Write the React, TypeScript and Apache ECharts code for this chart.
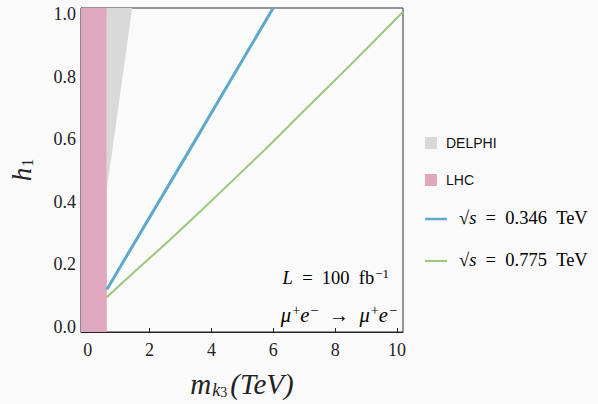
import React, { useEffect, useRef } from "react";
import * as echarts from "echarts";

const xTicks = [0, 2, 4, 6, 8, 10];
const yTicks = [0, 0.2, 0.4, 0.6, 0.8, 1.0];
const xRange = [-0.215, 10.19];
const yRange = [-0.016, 1.019];
const lhcEdge = 0.62;
const delphiM = [0.62, 1.44, 0.62];
const delphiH = [0.44, 1.019, 1.019];
const blueM = [0.62, 3.29, 6.0];
const blueH = [0.12, 0.565, 1.02];
const greenM = [0.62, 1.52, 2.6, 3.67, 5.71, 6.89, 8.5, 10.19];
const greenH = [0.095, 0.177, 0.273, 0.372, 0.565, 0.681, 0.838, 1.007];

const SERIF = "'Liberation Serif', 'DejaVu Serif', serif";
const SANS = "'Liberation Sans', Arial, sans-serif";
const PINK = "#dfa8bf";
const GRAY = "#d9d9d9";
const BLUE = "#5ea8cc";
const GREEN = "#9bc77c";
const BG = "#fafafa";
const EN = "\u2002";

export default function App() {
  const ref = useRef<HTMLDivElement>(null);
  useEffect(() => {
    const chart = echarts.init(ref.current!, null, { renderer: "svg" });
    const mkRich = (fs: number) => ({
      n: { fontFamily: SERIF, fontSize: fs, color: "#222" },
      i: { fontFamily: SERIF, fontSize: fs, fontStyle: "italic", color: "#222" },
      sup: { fontFamily: SERIF, fontSize: fs * 0.7, color: "#222", verticalAlign: "top", padding: [0, 0, fs * 0.5, 1] },
    });
    const mathRich = mkRich(18.5);
    chart.setOption({
      animation: false,
      backgroundColor: BG,
      grid: {
        left: 79,
        top: 8,
        right: 195,
        bottom: 72,
        show: true,
        borderColor: "#333",
        borderWidth: 1,
        backgroundColor: BG,
      },
      xAxis: {
        type: "value",
        min: xRange[0],
        max: xRange[1],
        splitLine: { show: false },
        axisLine: { show: true, onZero: false, lineStyle: { color: "#222", width: 1.2 } },
        axisTick: { show: true, inside: true, length: 4, customValues: xTicks, lineStyle: { color: "#222" } },
        axisLabel: {
          customValues: xTicks,
          fontFamily: SERIF,
          fontSize: 18,
          color: "#222",
          margin: 9,
          formatter: (v: number) => String(Math.round(v)),
        },
        name: "{m|m}{s|k}{s3|3}{m|(TeV)}",
        nameLocation: "middle",
        nameGap: 37,
        nameTextStyle: {
          rich: {
            m: { fontFamily: SERIF, fontSize: 29, fontStyle: "italic", color: "#222", padding: [0, 1, 0, 1] },
            s: { fontFamily: SERIF, fontSize: 18, fontStyle: "italic", color: "#222", verticalAlign: "bottom", padding: [12, 0, 0, 0] },
            s3: { fontFamily: SERIF, fontSize: 14, color: "#222", verticalAlign: "bottom", padding: [12, 2, 0, 0] },
          },
        },
      },
      yAxis: {
        type: "value",
        min: yRange[0],
        max: yRange[1],
        splitLine: { show: false },
        axisLine: { show: true, onZero: false, lineStyle: { color: "#222", width: 1.2 } },
        axisTick: { show: true, inside: true, length: 4, customValues: yTicks, lineStyle: { color: "#222" } },
        axisLabel: {
          customValues: yTicks,
          fontFamily: SERIF,
          fontSize: 18,
          color: "#222",
          margin: 5,
          formatter: (v: number) => v.toFixed(1),
        },
        name: "{h|h}{s|1}",
        nameLocation: "middle",
        nameRotate: 90,
        nameGap: 46,
        nameTextStyle: {
          rich: {
            h: { fontFamily: SERIF, fontSize: 27, fontStyle: "italic", color: "#222" },
            s: { fontFamily: SERIF, fontSize: 16, color: "#222", verticalAlign: "bottom", padding: [10, 0, 0, 1] },
          },
        },
      },
      series: [
        {
          name: "DELPHI",
          type: "custom",
          clip: true,
          data: [[delphiM[0], delphiH[0]]],
          renderItem: (_p: any, api: any) => ({
            type: "polygon",
            shape: { points: delphiM.map((m, i) => api.coord([m, delphiH[i]])) },
            style: { fill: GRAY },
          }),
          silent: true,
        },
        {
          name: "LHC",
          type: "line",
          data: [],
          markArea: {
            silent: true,
            itemStyle: { color: PINK, opacity: 1 },
            data: [[{ xAxis: xRange[0] }, { xAxis: lhcEdge }]],
          },
        },
        {
          name: "s346",
          type: "line",
          showSymbol: false,
          clip: true,
          data: blueM.map((m, i) => [m, blueH[i]]),
          lineStyle: { color: BLUE, width: 3 },
        },
        {
          name: "s775",
          type: "line",
          showSymbol: false,
          clip: true,
          smooth: 0.2,
          data: greenM.map((m, i) => [m, greenH[i]]),
          lineStyle: { color: GREEN, width: 2 },
        },
      ],
      graphic: [
        { type: "rect", shape: { x: 425, y: 137, width: 12, height: 12 }, style: { fill: GRAY } },
        { type: "text", x: 446, y: 143, style: { text: "DELPHI", fontFamily: SANS, fontSize: 14, fill: "#111", verticalAlign: "middle" } },
        { type: "rect", shape: { x: 425, y: 174, width: 12, height: 12 }, style: { fill: PINK } },
        { type: "text", x: 446, y: 180, style: { text: "LHC", fontFamily: SANS, fontSize: 14, fill: "#111", verticalAlign: "middle" } },
        { type: "line", shape: { x1: 425, y1: 219, x2: 447, y2: 219 }, style: { stroke: BLUE, lineWidth: 2.5 } },
        {
          type: "text", x: 459, y: 218,
          style: { text: `{n|√}{i|s}{n|${EN}=${EN}0.346${EN}TeV}`, verticalAlign: "middle", rich: mathRich },
        },
        { type: "line", shape: { x1: 425, y1: 261, x2: 447, y2: 261 }, style: { stroke: GREEN, lineWidth: 2 } },
        {
          type: "text", x: 459, y: 260,
          style: { text: `{n|√}{i|s}{n|${EN}=${EN}0.775${EN}TeV}`, verticalAlign: "middle", rich: mathRich },
        },
        {
          type: "text", x: 389, y: 278,
          style: { text: `{i|L}{n|${EN}=${EN}100${EN}fb}{sup|−1}`, align: "right", verticalAlign: "middle", rich: mathRich },
        },
        {
          type: "text", x: 397, y: 315,
          style: {
            text: `{i|μ}{sup|+}{i|e}{sup|−}{n|${EN}→${EN}}{i|μ}{sup|+}{i|e}{sup|−}`,
            align: "right",
            verticalAlign: "middle",
            rich: mkRich(20.5),
          },
        },
      ],
    });
    return () => chart.dispose();
  }, []);
  return (
    <div
      ref={ref}
      style={{ position: "fixed", left: 0, top: 0, width: 598, height: 404, background: BG }}
    />
  );
}
